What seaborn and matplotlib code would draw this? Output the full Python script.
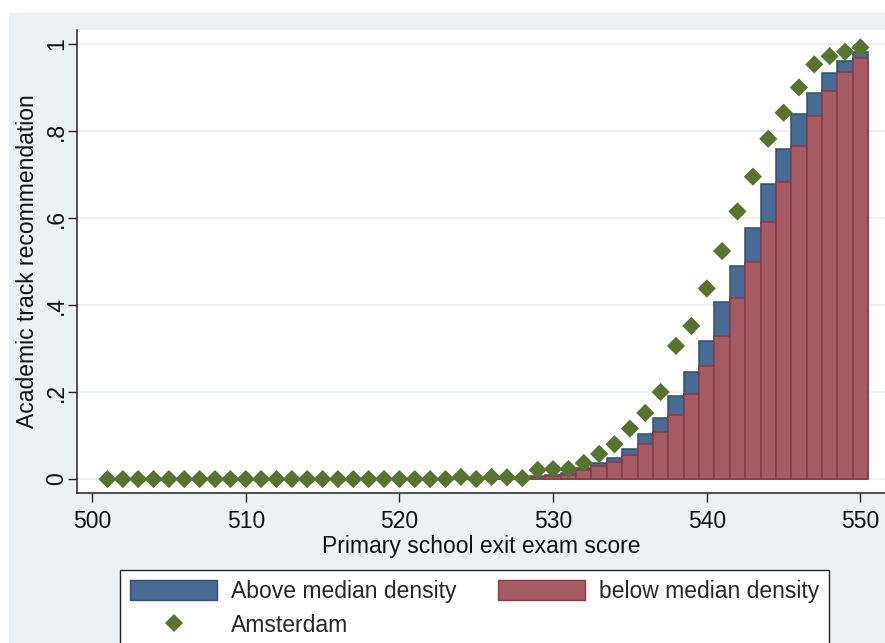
import matplotlib
matplotlib.use("Agg")
import matplotlib.pyplot as plt
from matplotlib.patches import Patch, Rectangle
from matplotlib.lines import Line2D
import seaborn as sns

# Exam scores on the x axis
scores = list(range(501, 551))

# Share with an academic track recommendation, above-median density schools
above_median = [
    0.0, 0.0, 0.0, 0.0, 0.0, 0.0, 0.0, 0.0, 0.0, 0.0,
    0.0, 0.0, 0.0, 0.0, 0.0, 0.0, 0.0, 0.0, 0.0, 0.0,
    0.0, 0.0, 0.0, 0.0, 0.0, 0.0, 0.0, 0.0,
    0.007, 0.010, 0.015, 0.025, 0.036, 0.049, 0.070, 0.103, 0.141, 0.192,
    0.247, 0.317, 0.408, 0.490, 0.577, 0.678, 0.759, 0.838, 0.887, 0.934,
    0.961, 0.982,
]

# Same, below-median density schools
below_median = [
    0.0, 0.0, 0.0, 0.0, 0.0, 0.0, 0.0, 0.0, 0.0, 0.0,
    0.0, 0.0, 0.0, 0.0, 0.0, 0.0, 0.0, 0.0, 0.0, 0.0,
    0.0, 0.0, 0.0, 0.0, 0.0, 0.0, 0.0, 0.0,
    0.004, 0.007, 0.010, 0.020, 0.030, 0.040, 0.055, 0.080, 0.109, 0.147,
    0.196, 0.260, 0.329, 0.415, 0.498, 0.590, 0.682, 0.766, 0.834, 0.892,
    0.935, 0.967,
]

# Amsterdam
amsterdam = [
    0.0, 0.0, 0.0, 0.0, 0.0, 0.0, 0.0, 0.0, 0.0, 0.0,
    0.0, 0.0, 0.0, 0.0, 0.0, 0.0, 0.0, 0.0, 0.0, 0.0,
    0.0, 0.0, 0.0, 0.005, 0.0, 0.005, 0.004, 0.002,
    0.021, 0.023, 0.023, 0.037, 0.058, 0.080, 0.116, 0.152, 0.200, 0.306,
    0.352, 0.438, 0.524, 0.615, 0.695, 0.782, 0.842, 0.900, 0.953, 0.972,
    0.982, 0.992,
]

x_ticks = [500, 510, 520, 530, 540, 550]
y_ticks = [0, 0.2, 0.4, 0.6, 0.8, 1.0]
y_tick_labels = ["0", ".2", ".4", ".6", ".8", "1"]

BLUE = "#476b92"
BLUE_EDGE = "#2f4f72"
RED = "#a65b64"
RED_EDGE = "#8b3a44"
GREEN = "#55752f"
REGION = "#eaf2f3"

sns.set_theme(style="white")
plt.rcParams["font.family"] = ["Liberation Sans", "DejaVu Sans"]
FS = 16.5

fig = plt.figure(figsize=(8.85, 6.43), dpi=100, facecolor="white")
fig.patches.append(
    Rectangle((9 / 885, 0), 1, (643 - 13) / 643, transform=fig.transFigure,
              facecolor=REGION, edgecolor="none", zorder=-10)
)
ax = fig.add_axes([77 / 885, (643 - 493) / 643, 808 / 885, 463 / 643])
ax.set_facecolor("white")

# horizontal grid
for yv in y_ticks:
    ax.axhline(yv, color=REGION, lw=1.4, zorder=0.5)

sns.histplot(x=scores, weights=above_median, discrete=True, shrink=1,
             color=BLUE, edgecolor=BLUE_EDGE, linewidth=1.1, alpha=1,
             ax=ax, zorder=2)
sns.histplot(x=scores, weights=below_median, discrete=True, shrink=1,
             color=RED, edgecolor=RED_EDGE, linewidth=1.1, alpha=1,
             ax=ax, zorder=3)
sns.scatterplot(x=scores, y=amsterdam, marker="D", s=86, color=GREEN,
                edgecolor="none", linewidth=0, ax=ax, zorder=5, legend=False)

ax.set_xlim(499.02, 551.6)
ax.set_ylim(-0.032, 1.032)
ax.set_xticks(x_ticks)
ax.set_xticklabels([str(v) for v in x_ticks], fontsize=FS)
ax.set_yticks(y_ticks)
ax.set_yticklabels(y_tick_labels, fontsize=FS, rotation=90, va="center")
ax.tick_params(axis="both", direction="out", length=6.5, width=1.0,
               color="#222222", labelcolor="#111111", bottom=True, left=True)
ax.tick_params(axis="x", pad=5.5)
ax.tick_params(axis="y", pad=0)

ax.set_xlabel("Primary school exit exam score", fontsize=FS, color="#111111", labelpad=1.5)
ax.set_ylabel("Academic track recommendation", fontsize=FS, color="#111111", labelpad=4)

for side in ["top", "right"]:
    ax.spines[side].set_visible(False)
for side in ["left", "bottom"]:
    ax.spines[side].set_color("#222222")
    ax.spines[side].set_linewidth(1.1)

handles = [
    Patch(facecolor=BLUE, edgecolor=BLUE_EDGE, linewidth=1.0),
    Line2D([], [], marker="D", linestyle="none", color=GREEN,
           markersize=9.3, markeredgewidth=0),
    Patch(facecolor=RED, edgecolor=RED_EDGE, linewidth=1.0),
]
labels = ["Above median density", "Amsterdam", "below median density"]
leg = fig.legend(handles, labels, ncol=2, loc="upper left",
                 bbox_to_anchor=(120 / 885, (643 - 570) / 643),
                 bbox_transform=fig.transFigure,
                 fontsize=FS, frameon=True, fancybox=False, shadow=False,
                 framealpha=1, edgecolor="#222222", facecolor="white",
                 borderpad=0.45, handlelength=3.8, handleheight=0.96,
                 handletextpad=0.6, columnspacing=1.8, labelspacing=0.45,
                 borderaxespad=0)
leg.get_frame().set_linewidth(1.0)

fig.savefig("out.png", dpi=100, facecolor=fig.get_facecolor())
